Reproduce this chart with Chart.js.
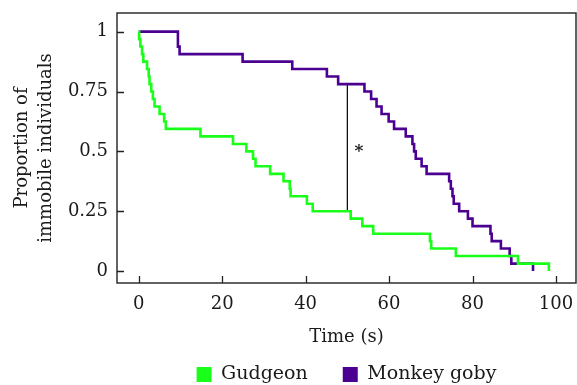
<!DOCTYPE html>
<html>
<head>
<meta charset="utf-8">
<script src="https://cdn.jsdelivr.net/npm/chart.js@4.4.1/dist/chart.umd.min.js"></script>
<style>
  html, body { margin: 0; padding: 0; background: #ffffff; }
  #wrap { width: 577px; height: 385px; }
</style>
</head>
<body>
<div id="wrap"><canvas id="chart" width="577" height="385"></canvas></div>
<script>
// Kaplan–Meier style curves: time of each step (s) and proportion still immobile after it
const gudgeonTime = [0, 0.1, 0.4, 0.8, 1.1, 2.0, 2.4, 2.6, 3.0, 3.4, 3.8, 5.0, 6.1, 6.5,
                     14.8, 22.6, 25.8, 27.4, 28.0, 31.5, 34.7, 36.2, 36.4, 40.3, 41.7,
                     50.8, 53.6, 56.2, 69.8, 70.1, 76.0, 90.9, 98.3];
const gudgeonProp = [1, 0.969, 0.938, 0.906, 0.875, 0.844, 0.8125, 0.781, 0.75, 0.719, 0.6875, 0.656, 0.625, 0.594,
                     0.5625, 0.531, 0.5, 0.469, 0.4375, 0.406, 0.375, 0.344, 0.3125, 0.281, 0.25,
                     0.219, 0.1875, 0.156, 0.125, 0.094, 0.0625, 0.031, 0];

const gobyTime = [0, 9.4, 9.8, 24.9, 36.8, 45.1, 47.8, 54.1, 55.7, 57.0, 58.2, 59.9, 61.2,
                  64.0, 65.6, 66.0, 66.4, 67.8, 69.0, 74.4, 74.8, 75.2, 75.5, 76.8,
                  78.9, 80.0, 84.3, 84.6, 86.8, 88.9, 89.3, 94.5];
const gobyProp = [1, 0.9375, 0.906, 0.875, 0.844, 0.8125, 0.781, 0.75, 0.719, 0.6875, 0.656, 0.625, 0.594,
                  0.5625, 0.531, 0.5, 0.469, 0.4375, 0.406, 0.375, 0.344, 0.3125, 0.281, 0.25,
                  0.219, 0.1875, 0.156, 0.125, 0.094, 0.0625, 0.031, 0];

// Comparison bar between the two curves at 50 s, with its significance mark
const compareTime = [50, 50];
const compareProp = [0.25, 0.781];
const sigText = '*';
const sigTime = 52.8;
const sigProp = 0.5;

const xTicks = [0, 20, 40, 60, 80, 100];
const yTicks = [0, 0.25, 0.5, 0.75, 1];

const GREEN = '#1aff1a';
const PURPLE = '#4b0092';
const INK = '#1a1a1a';

const toPoints = (xs, ys) => xs.map((x, i) => ({ x: x, y: ys[i] }));

// Frame, inward tick marks and the significance asterisk
const framePlugin = {
  id: 'frame',
  afterDraw(chart) {
    const { ctx, chartArea: a, scales } = chart;
    ctx.save();
    ctx.strokeStyle = '#222';
    ctx.lineWidth = 1.4;
    ctx.strokeRect(a.left, a.top, a.right - a.left, a.bottom - a.top);
    ctx.lineWidth = 1.3;
    ctx.beginPath();
    yTicks.forEach(v => {
      const y = Math.round(scales.y.getPixelForValue(v)) + 0.5;
      ctx.moveTo(a.left, y); ctx.lineTo(a.left + 7, y);
    });
    xTicks.forEach(v => {
      const x = Math.round(scales.x.getPixelForValue(v)) + 0.5;
      ctx.moveTo(x, a.bottom); ctx.lineTo(x, a.bottom - 7);
    });
    ctx.stroke();
    ctx.fillStyle = INK;
    ctx.font = 'bold 17px "DejaVu Serif"';
    ctx.textAlign = 'center';
    ctx.textBaseline = 'alphabetic';
    ctx.fillText(sigText, scales.x.getPixelForValue(sigTime), scales.y.getPixelForValue(sigProp) + 5);
    ctx.restore();
  }
};

// Keep the plot box at fixed edges: no extra room for overhanging tick labels
function noOverhang(axis) {
  axis.paddingLeft = 0; axis.paddingRight = 0;
  axis.paddingTop = 0; axis.paddingBottom = 0;
}

Chart.defaults.font.family = '"DejaVu Serif", serif';
Chart.defaults.color = INK;

new Chart(document.getElementById('chart'), {
  type: 'line',
  data: {
    datasets: [
      {
        label: 'Gudgeon',
        data: toPoints(gudgeonTime, gudgeonProp),
        borderColor: GREEN, backgroundColor: GREEN,
        borderWidth: 2.6, stepped: true, pointRadius: 0, fill: false
      },
      {
        label: 'Monkey goby',
        data: toPoints(gobyTime, gobyProp),
        borderColor: PURPLE, backgroundColor: PURPLE,
        borderWidth: 2.6, stepped: true, pointRadius: 0, fill: false
      },
      {
        label: 'compare',
        data: toPoints(compareTime, compareProp),
        borderColor: '#000', backgroundColor: '#000',
        borderWidth: 1.2, pointRadius: 0, fill: false
      }
    ]
  },
  options: {
    responsive: false,
    animation: false,
    devicePixelRatio: 1,
    layout: { padding: { left: 0, right: 1, top: 13, bottom: -9 } },
    plugins: {
      tooltip: { enabled: false },
      legend: {
        position: 'bottom',
        fullSize: false,
        labels: {
          boxWidth: 15, boxHeight: 15, padding: 35,
          font: { size: 19 }, color: INK,
          generateLabels(chart) {
            const items = Chart.defaults.plugins.legend.labels.generateLabels(chart);
            items.forEach(it => { it.lineWidth = 0; });
            return items.filter(it => it.datasetIndex < 2);
          }
        }
      }
    },
    scales: {
      x: {
        type: 'linear',
        min: -5.2, max: 104.8,
        afterBuildTicks(axis) { axis.ticks = xTicks.map(v => ({ value: v })); },
        afterFit(axis) { axis.height = 47; noOverhang(axis); },
        grid: { display: false, drawTicks: false },
        border: { display: false },
        ticks: { autoSkip: false, maxRotation: 0, padding: 11, font: { size: 18 }, color: INK,
                 callback: v => String(v) },
        title: { display: true, text: 'Time (s)', font: { size: 18 }, color: INK,
                 padding: { top: 0, bottom: -18 } }
      },
      y: {
        min: -0.05, max: 1.078,
        afterBuildTicks(axis) { axis.ticks = yTicks.map(v => ({ value: v })); },
        afterFit(axis) { axis.width = 117; noOverhang(axis); },
        grid: { display: false, drawTicks: false },
        border: { display: false },
        ticks: { autoSkip: false, padding: 9, font: { size: 18 }, color: INK,
                 callback: v => String(v) },
        title: { display: true, text: ['Proportion of', 'immobile individuals'],
                 font: { size: 18, lineHeight: 1.36 }, color: INK,
                 padding: { top: 10, bottom: 0 } }
      }
    }
  },
  plugins: [framePlugin]
});
</script>
</body>
</html>
